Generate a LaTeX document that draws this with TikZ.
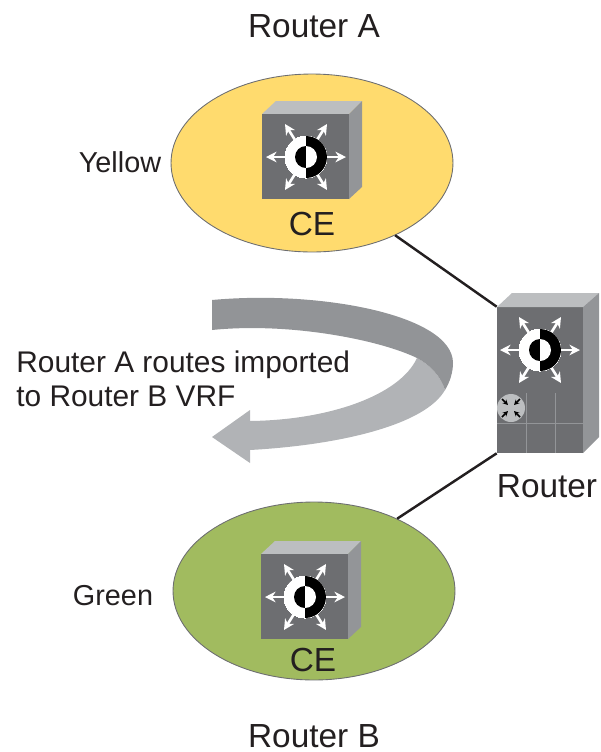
\documentclass[tikz,border=0pt]{standalone}
\usepackage{fontspec}
\setmainfont{Liberation Sans}
\usepackage{xcolor}
\usetikzlibrary{arrows.meta,shapes.geometric,calc,positioning}
\definecolor{netyellow}{HTML}{FFDB6E}
\definecolor{netgreen}{HTML}{A1BB5F}
\definecolor{boxfront}{HTML}{6D6E71}
\definecolor{boxtop}{HTML}{BCBEC0}
\definecolor{boxside}{HTML}{939598}
\definecolor{bandlight}{HTML}{B1B3B6}
\definecolor{banddark}{HTML}{929497}
\definecolor{inktext}{HTML}{231F20}
\tikzset{
	every node/.style={font=\fontsize{19}{24}\selectfont, text=inktext},
	smalltext/.style={font=\fontsize{16.4}{20}\selectfont},
	importtext/.style={font=\fontsize{17}{19.3}\selectfont, inner sep=0pt, anchor=west, align=left},
	netzone/.style={ellipse, draw=boxfront, line width=0.5pt, minimum width=5.64cm, minimum height=3.56cm, inner sep=0pt},
	link/.style={line width=1.4pt, draw=inktext},
	ray/.style={line width=1.5pt, white, -{Stealth[length=6pt,width=6pt]}},
	tinyray/.style={line width=0.9pt, black, -{Stealth[length=3pt,width=3pt]}},
	switchicon/.pic={
		\draw [white, line width=0pt, fill=white] (0,0) circle (21);
		\draw [ray] (-21,0) -- (-40,0);
		\draw [ray] (21,0) -- (40,0);
		\draw [ray] (-11,-17) -- (-21,-33);
		\draw [ray] (11,-17) -- (21,-33);
		\draw [ray] (-11,17) -- (-21,33);
		\draw [ray] (11,17) -- (21,33);
		\fill [black] (0,-21) arc [start angle=270, end angle=450, radius=21] -- cycle;
		\fill [black] (0,-11) arc [start angle=270, end angle=90, radius=11] -- cycle;
		\fill [white] (0,-11) arc [start angle=270, end angle=450, radius=11] -- cycle;
	}
}
\begin{document}
\begin{tikzpicture}[x=0.02cm, y=-0.02cm]
		\useasboundingbox (0,0) rectangle (600,752);
		% the two sites
		\node [netzone, fill=netyellow] (yellownet) at (312,163) {};
		\node [netzone, fill=netgreen] (greennet) at (314,591) {};
		% CE of router A
		\fill [boxtop] (262,114) -- (276,101) -- (362,101) -- (349,114) -- cycle;
		\fill [boxside] (349,114) -- (362,101) -- (362,187) -- (349,199) -- cycle;
		\fill [boxfront] (262,114) rectangle (349,199);
		\pic at (306,157) {switchicon};
		% CE of router B
		\fill [boxtop] (261,554) -- (275,541) -- (361,541) -- (348,554) -- cycle;
		\fill [boxside] (348,554) -- (361,541) -- (361,627) -- (348,639) -- cycle;
		\fill [boxfront] (261,554) rectangle (348,639);
		\pic at (305,597) {switchicon};
		% the router
		\node [fill=boxfront, minimum width=1.72cm, minimum height=2.92cm, inner sep=0pt] (routerbox) at (540,380) {};
		\fill [boxtop] (497,307) -- (512,293) -- (599,293) -- (583,307) -- cycle;
		\fill [boxside] (583,307) -- (599,293) -- (599,437) -- (583,453) -- cycle;
		\pic at (540,350) {switchicon};
		\draw [line width=0.4pt, boxside] (497,423) -- (583,423);
		\draw [line width=0.4pt, boxside] (526,393) -- (526,453);
		\draw [line width=0.4pt, boxside] (555,393) -- (555,453);
		\fill [boxtop] (511,408) circle (14);
		\draw [tinyray] (502,399) -- (508,405);
		\draw [tinyray] (520,399) -- (514,405);
		\draw [tinyray] (502,417) -- (508,411);
		\draw [tinyray] (520,417) -- (514,411);
		% links
		\draw [link] (yellownet.-41) -- (routerbox.north west);
		\draw [link] (greennet.41) -- (routerbox.south west);
		% the import arrow
		\fill [bandlight] (445,390) .. controls (425,425) and (340,445) .. (250,450) -- (250,463) -- (212,437) -- (250,410) -- (250,421) .. controls (330,420) and (400,395) .. (417,358) .. controls (430,365) and (440,375) .. (445,390) -- cycle;
		\fill [banddark] (212,300) .. controls (320,290) and (453,315) .. (453,363) .. controls (453,372) and (450,382) .. (445,390) .. controls (440,375) and (430,365) .. (417,358) .. controls (380,340) and (290,322) .. (212,330) -- cycle;
		% labels
		\node (routerAlabel) at (314,26) {Router A};
		\node [smalltext] (yellowlabel) at (120,162) {Yellow};
		\node (ceAlabel) at (312,224) {CE};
		\node [importtext] (importlabel) at (16,379) {Router A routes imported\\to Router B VRF};
		\node (routerlabel) at (547,486) {Router};
		\node [smalltext] (greenlabel) at (113,596) {Green};
		\node (ceBlabel) at (313,660) {CE};
		\node (routerBlabel) at (314,736) {Router B};
\end{tikzpicture}
\end{document}
